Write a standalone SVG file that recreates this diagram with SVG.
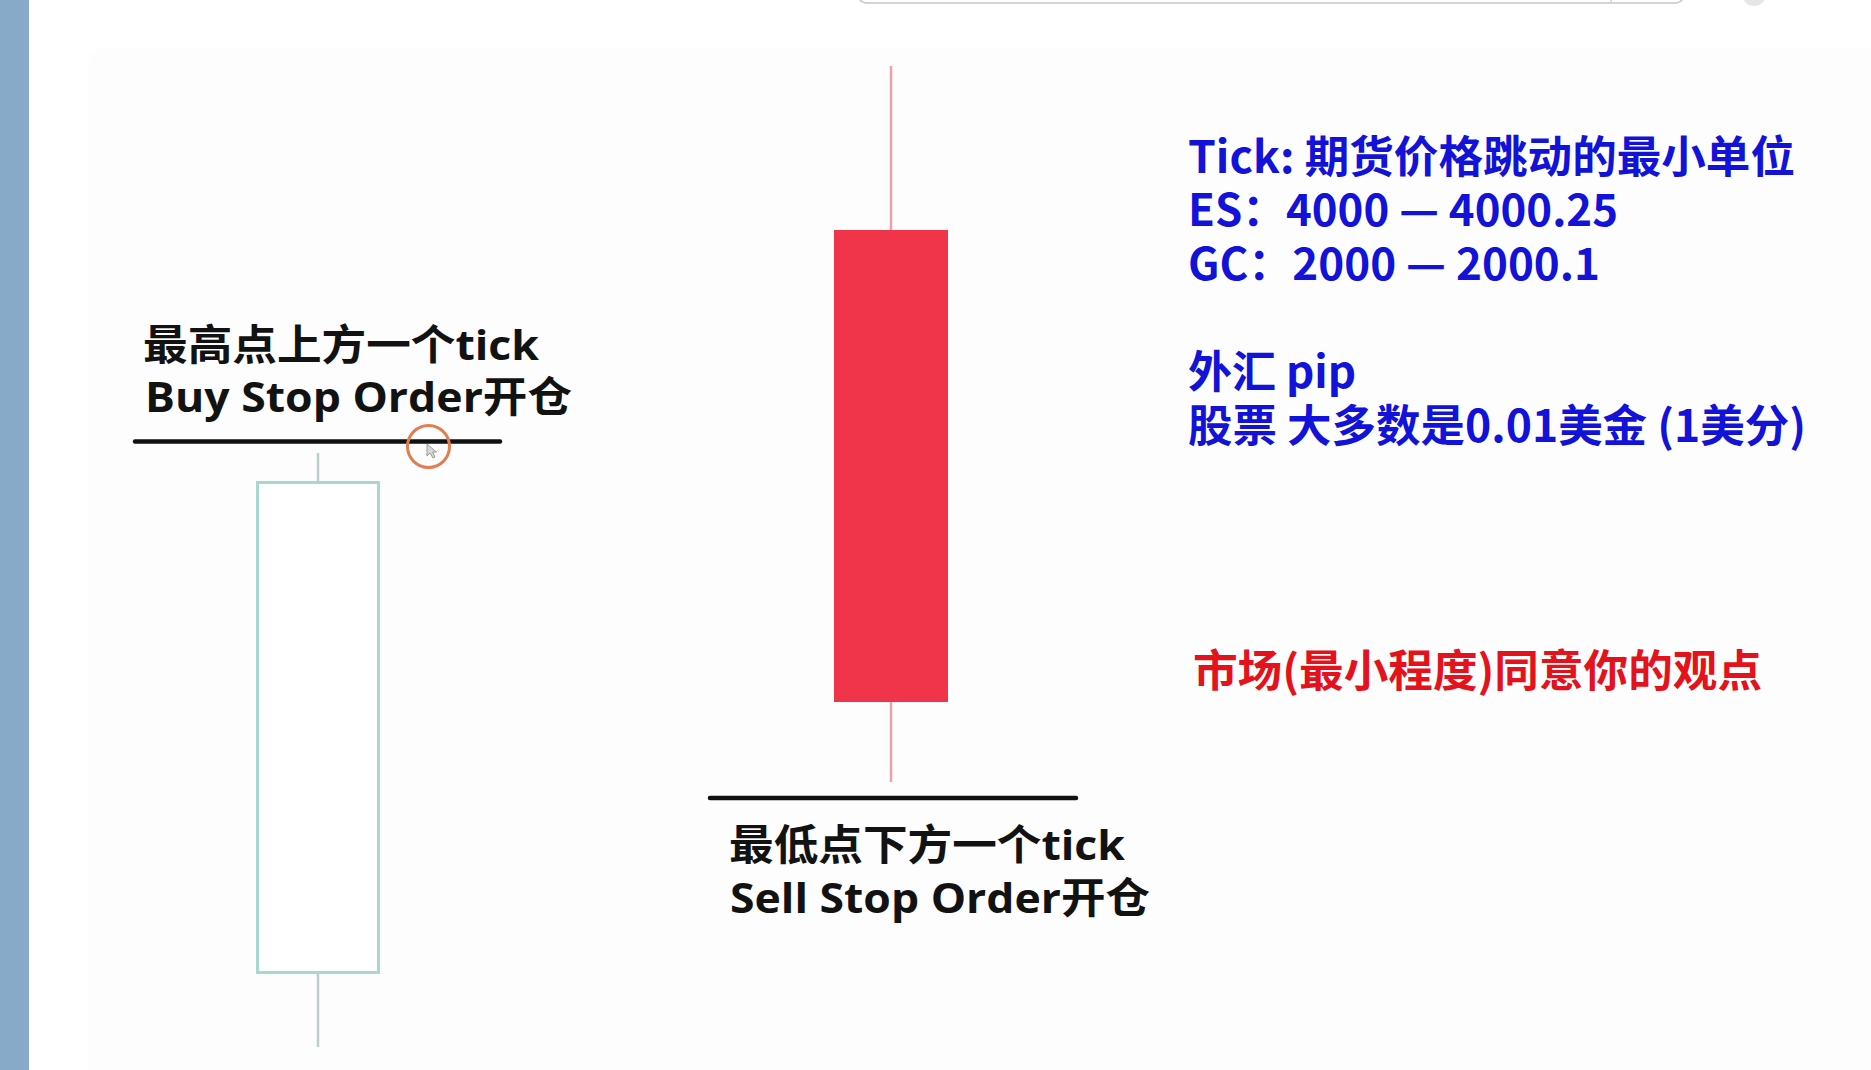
<svg xmlns="http://www.w3.org/2000/svg" width="1871" height="1070" viewBox="0 0 1871 1070">
  <style>
    .blk { font-family: "Open Sans", "Noto Sans CJK SC", sans-serif; font-weight: 700; font-size: 42px; fill: #121212; }
    .blue { font-family: "Noto Sans CJK SC", "Noto Sans", sans-serif; font-weight: 700; font-size: 44px; fill: #1212d8; }
    .red { font-family: "Noto Sans CJK SC", "Noto Sans", sans-serif; font-weight: 700; font-size: 44px; fill: #e3121c; }
    .level { stroke: #111; stroke-width: 4.5; stroke-linecap: round; }
    .wick-g { stroke: #bccfcf; stroke-width: 2.5; }
    .wick-r { stroke: #e9a2aa; stroke-width: 2.5; }
  </style>
  <rect x="0" y="0" width="1871" height="1070" fill="#ffffff"/>
  <rect x="0" y="0" width="29" height="1070" fill="#86aac8"/>
  <rect x="88" y="48" width="1800" height="1040" rx="18" fill="#fdfdfd"/>
  <g id="topbar">
    <rect x="857" y="-30" width="828" height="33" rx="10" fill="#ffffff" stroke="#c6c6c6" stroke-width="1.5"/>
    <line x1="1611" y1="-5" x2="1611" y2="3" stroke="#d0d0d0" stroke-width="1.5"/>
    <circle cx="1754" cy="-6" r="12" fill="#e6e6e6"/>
  </g>

  <g id="candle-bull">
    <line class="wick-g" x1="318" y1="453" x2="318" y2="482"/>
    <line class="wick-g" x1="318" y1="973" x2="318" y2="1047"/>
    <rect x="257.5" y="482.5" width="121" height="490" fill="#ffffff" stroke="#a6d8cf" stroke-width="3"/>
  </g>

  <g id="candle-bear">
    <line class="wick-r" x1="891" y1="66" x2="891" y2="230"/>
    <line class="wick-r" x1="891" y1="702" x2="891" y2="782"/>
    <rect x="834" y="230" width="114" height="472" fill="#f0354a"/>
  </g>

  <g id="connectors">
    <line class="level" x1="135" y1="441.5" x2="500" y2="441.5"/>
    <line class="level" x1="710" y1="798" x2="1076" y2="798"/>
  </g>

  <g id="cursor">
    <circle cx="428.5" cy="446.5" r="21" fill="none" stroke="#e27d52" stroke-width="3"/>
    <path d="M427 444 L427 456 L430 453 L433 458 L435 457 L432.5 452 L436.5 452 Z" fill="#d8d8d8" stroke="#9a9a9a" stroke-width="1"/>
  </g>

  <g id="label-buy">
    <text class="blk" x="143" y="360" textLength="396" lengthAdjust="spacingAndGlyphs">最高点上方一个tick</text>
    <text class="blk" x="145" y="412" textLength="427" lengthAdjust="spacingAndGlyphs">Buy Stop Order开仓</text>
  </g>

  <g id="label-sell">
    <text class="blk" x="729" y="860" textLength="396" lengthAdjust="spacingAndGlyphs">最低点下方一个tick</text>
    <text class="blk" x="730" y="913" textLength="420" lengthAdjust="spacingAndGlyphs">Sell Stop Order开仓</text>
  </g>

  <g id="tick-notes">
    <text class="blue" x="1188" y="173" textLength="607" lengthAdjust="spacingAndGlyphs">Tick: 期货价格跳动的最小单位</text>
    <text class="blue" x="1188" y="226" textLength="430" lengthAdjust="spacingAndGlyphs">ES：4000 — 4000.25</text>
    <text class="blue" x="1188" y="280" textLength="412" lengthAdjust="spacingAndGlyphs">GC：2000 — 2000.1</text>
    <text class="blue" x="1188" y="388" textLength="168" lengthAdjust="spacingAndGlyphs">外汇 pip</text>
    <text class="blue" x="1188" y="442" textLength="618" lengthAdjust="spacingAndGlyphs">股票 大多数是0.01美金 (1美分)</text>
  </g>

  <g id="market-note">
    <text class="red" x="1193" y="687" textLength="569" lengthAdjust="spacingAndGlyphs">市场(最小程度)同意你的观点</text>
  </g>
</svg>
